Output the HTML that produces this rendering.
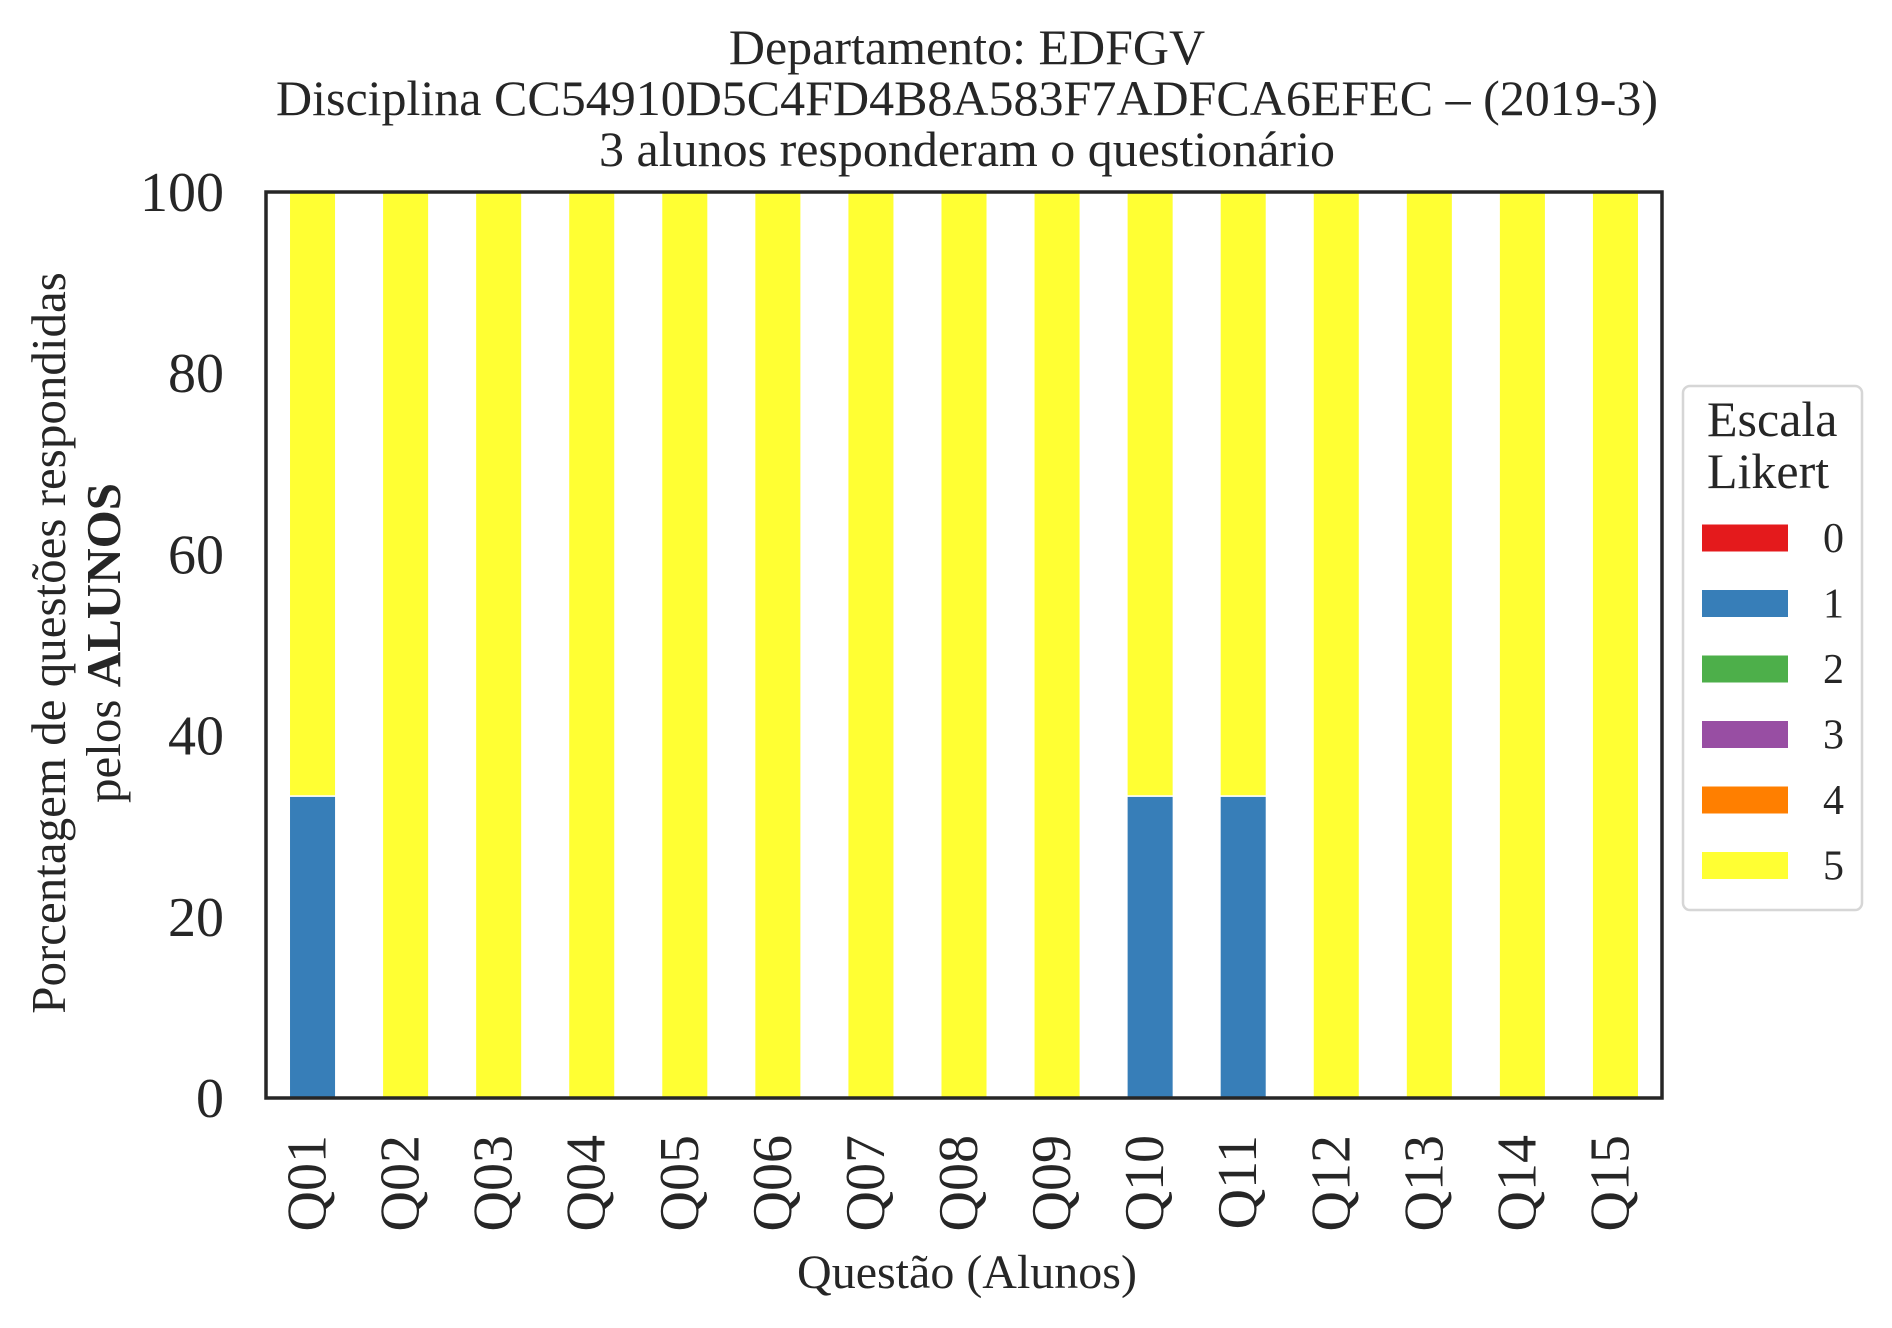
<!DOCTYPE html>
<html><head><meta charset="utf-8"><style>
body{margin:0;background:#fff}
svg text{font-family:"Liberation Serif",serif;fill:#262626}
</style></head><body>
<svg width="1892" height="1323" viewBox="0 0 1892 1323" xmlns="http://www.w3.org/2000/svg">
<rect width="1892" height="1323" fill="#fff"/>
<g text-anchor="middle" font-size="50">
<text x="967" y="64">Departamento: EDFGV</text>
<text x="967" y="115">Disciplina CC54910D5C4FD4B8A583F7ADFCA6EFEC – (2019-3)</text>
<text x="967" y="166">3 alunos responderam o questionário</text>
</g>
<g id="bars"></g>
<g id="yticks"></g>
<g id="xticks"></g>
<rect x="266" y="192" width="1396" height="906" fill="none" stroke="#262626" stroke-width="3.5"/>
<text x="967" y="1288" text-anchor="middle" font-size="48">Questão (Alunos)</text>
<g font-size="49" text-anchor="middle">
<text transform="translate(65,643) rotate(-90)">Porcentagem de questões respondidas</text>
<text transform="translate(120,643) rotate(-90)">pelos <tspan font-weight="bold">ALUNOS</tspan></text>
</g>
<g>
<rect x="1683" y="386" width="179" height="524" rx="7" fill="#fff" stroke="#d6d6d6" stroke-width="2.5"/>
<text x="1707" y="436" font-size="50">Escala</text>
<text x="1707" y="488" font-size="50">Likert</text>
<g id="legend-entries"></g>
</g>
</svg>
<script>
const categories=["Q01","Q02","Q03","Q04","Q05","Q06","Q07","Q08","Q09","Q10","Q11","Q12","Q13","Q14","Q15"];
const levels=["0","1","2","3","4","5"];
const colors=["#e41a1c","#377eb8","#4daf4a","#984ea3","#ff7f00","#ffff33"];
const s0=[0,0,0,0,0,0,0,0,0,0,0,0,0,0,0];
const s1=[33.33,0,0,0,0,0,0,0,0,33.33,33.33,0,0,0,0];
const s2=[0,0,0,0,0,0,0,0,0,0,0,0,0,0,0];
const s3=[0,0,0,0,0,0,0,0,0,0,0,0,0,0,0];
const s4=[0,0,0,0,0,0,0,0,0,0,0,0,0,0,0];
const s5=[66.67,100,100,100,100,100,100,100,100,66.67,66.67,100,100,100,100];
const yTicks=[0,20,40,60,80,100];
const series=[s0,s1,s2,s3,s4,s5];
const NS="http://www.w3.org/2000/svg";
const L=266,R=1662,T=192,B=1098;
const step=(R-L)/categories.length;
const xC=i=>L+step*(i+0.5);
const y=v=>B-(v/100)*(B-T);
function mk(tag,attrs,parent){const e=document.createElementNS(NS,tag);for(const k in attrs)e.setAttribute(k,attrs[k]);parent.appendChild(e);return e;}
const bars=document.getElementById('bars');
categories.forEach((c,i)=>{
  let acc=0;
  series.forEach((s,k)=>{
    const v=s[i];if(v<=0)return;
    const r=mk('rect',{x:xC(i)-step*0.25,y:y(acc+v),width:step*0.5,height:y(acc)-y(acc+v),fill:colors[k],stroke:'#fff','stroke-width':1.5},bars);
    
    
    acc+=v;
  });
});
const yt=document.getElementById('yticks');
yTicks.forEach(t=>{
  const e=mk('text',{x:224,y:y(t)+19,'text-anchor':'end','font-size':56},yt);
  e.textContent=t;
  
  
});
const xt=document.getElementById('xticks');
categories.forEach((c,i)=>{
  const e=mk('text',{transform:`translate(${xC(i)+13},1135) rotate(-90)`,'text-anchor':'end','font-size':56},xt);
  e.textContent=c;
  
  
});
const lg=document.getElementById('legend-entries');
levels.forEach((l,k)=>{
  const cy=538+k*65.5;
  const r=mk('rect',{x:1702,y:cy-13.5,width:86,height:27,fill:colors[k]},lg);
  
  
  const t=mk('text',{x:1823,y:cy+14,'font-size':42},lg);
  t.textContent=l;
  
  
});
</script>
</body></html>
